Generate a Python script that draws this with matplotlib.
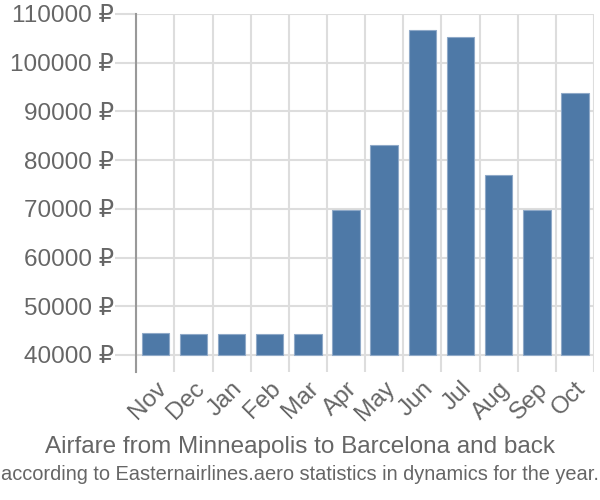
import numpy as np
import matplotlib.pyplot as plt

plt.rcParams['font.family'] = ['Liberation Sans', 'DejaVu Sans']

months = ['Nov', 'Dec', 'Jan', 'Feb', 'Mar', 'Apr', 'May', 'Jun', 'Jul', 'Aug', 'Sep', 'Oct']
prices = [44500, 44300, 44300, 44300, 44300, 69700, 83100, 106700, 105300, 77000, 69700, 93800]
base = 40000
yticks = list(range(40000, 110001, 10000))
ylabels = ['%d ₽' % v for v in yticks]

fig = plt.figure(figsize=(6, 5), dpi=100)
ax = fig.add_axes([0.227, 0.256, 0.763, 0.716])

x = np.arange(len(months))
ax.bar(x, np.array(prices) - base, bottom=base, width=0.72, color='#4e79a7',
       edgecolor='#8fa9c8', linewidth=0.8, zorder=3)

ax.set_xlim(-0.5, len(months) - 0.5)
ax.set_ylim(36500, 110000)
ax.set_yticks(yticks)
ax.set_yticklabels(ylabels)
ax.set_xticks(x)
ax.set_xticklabels(months, rotation=45, ha='right', rotation_mode='anchor')
ax.set_xticks(np.arange(-0.5, len(months)), minor=True)

ax.grid(axis='y', color='#dddddd', linewidth=1.5, zorder=0)
ax.grid(axis='x', which='minor', color='#dddddd', linewidth=1.5, zorder=0)
ax.tick_params(axis='y', length=15, width=1.5, color='#dddddd', labelcolor='#666666', labelsize=17.5, pad=1)
ax.tick_params(axis='x', which='major', length=0, labelcolor='#666666', labelsize=17.5, pad=4)
ax.tick_params(axis='x', which='minor', length=0)

for s in ['top', 'right', 'bottom']:
    ax.spines[s].set_visible(False)
ax.spines['left'].set_color('#999999')
ax.spines['left'].set_linewidth(1.5)

fig.text(0.5, 0.105, 'Airfare from Minneapolis to Barcelona and back', ha='center', va='center',
         fontsize=17.5, color='#666666')
fig.text(0.5, 0.051, 'according to Easternairlines.aero statistics in dynamics for the year.', ha='center',
         va='center', fontsize=14.4, color='#666666')

fig.savefig('out.png', dpi=100)
